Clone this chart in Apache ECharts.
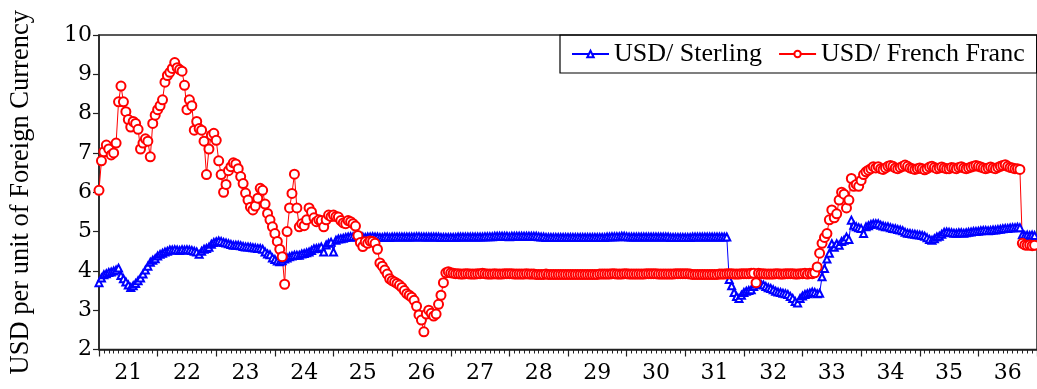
<!DOCTYPE html>
<html>
<head>
<meta charset="utf-8">
<script src="https://cdn.jsdelivr.net/npm/echarts@6/dist/echarts.min.js"></script>
<style>
html,body{margin:0;padding:0;background:#fff;}
#chart{width:1037px;height:389px;}
</style>
</head>
<body>
<div id="chart"></div>
<script>
// semi-monthly observations, 24 per year, starting January 1921
const START_YEAR = 1921;
const PER_YEAR = 24;
const yearLabels = ['21','22','23','24','25','26','27','28','29','30','31','32','33','34','35','36'];
const yTicks = [2,3,4,5,6,7,8,9,10];

const sterling = [
  3.70,3.82,3.90,3.93,3.96,3.97,4.00,4.02,4.07,3.88,3.80,3.72,3.64,3.58,3.62,3.68,3.75,3.82,3.92,4.02,4.12,4.22,4.27,4.31,
  4.38,4.42,4.45,4.48,4.50,4.53,4.53,4.54,4.53,4.52,4.54,4.53,4.54,4.53,4.52,4.50,4.48,4.42,4.50,4.55,4.57,4.60,4.68,4.72,
  4.74,4.76,4.75,4.72,4.71,4.69,4.67,4.65,4.65,4.65,4.64,4.62,4.61,4.61,4.60,4.59,4.58,4.57,4.57,4.55,4.48,4.43,4.41,4.33,
  4.29,4.25,4.23,4.26,4.30,4.33,4.36,4.38,4.40,4.40,4.40,4.43,4.44,4.46,4.48,4.52,4.56,4.57,4.58,4.61,4.48,4.66,4.70,4.73,
  4.48,4.78,4.81,4.82,4.83,4.85,4.86,4.87,4.87,4.86,4.86,4.87,4.86,4.85,4.86,4.86,4.87,4.86,4.86,4.85,4.85,4.86,4.86,4.85,
  4.86,4.86,4.86,4.86,4.86,4.86,4.86,4.86,4.86,4.86,4.87,4.87,4.86,4.86,4.86,4.86,4.86,4.86,4.86,4.86,4.85,4.85,4.85,4.85,
  4.85,4.85,4.85,4.86,4.86,4.86,4.86,4.86,4.86,4.86,4.86,4.86,4.86,4.86,4.87,4.87,4.87,4.87,4.88,4.88,4.88,4.88,4.88,4.88,
  4.87,4.88,4.88,4.88,4.88,4.88,4.88,4.88,4.88,4.88,4.88,4.88,4.87,4.86,4.86,4.85,4.85,4.85,4.85,4.85,4.85,4.85,4.85,4.85,
  4.85,4.85,4.85,4.85,4.85,4.85,4.85,4.85,4.85,4.85,4.85,4.85,4.85,4.85,4.85,4.85,4.86,4.86,4.87,4.87,4.87,4.87,4.88,4.88,
  4.87,4.86,4.86,4.86,4.86,4.86,4.86,4.86,4.86,4.86,4.86,4.86,4.86,4.86,4.86,4.86,4.86,4.86,4.85,4.85,4.85,4.85,4.85,4.85,
  4.85,4.85,4.85,4.86,4.86,4.86,4.86,4.86,4.86,4.86,4.86,4.86,4.86,4.86,4.86,4.86,4.86,4.86,3.78,3.62,3.45,3.35,3.30,3.38,
  3.45,3.48,3.50,3.52,3.60,3.66,3.68,3.66,3.64,3.60,3.57,3.55,3.52,3.48,3.46,3.45,3.43,3.42,3.40,3.35,3.30,3.22,3.18,3.30,
  3.36,3.40,3.42,3.44,3.46,3.45,3.42,3.43,3.85,4.06,4.30,4.45,4.69,4.60,4.69,4.65,4.75,4.78,4.86,4.80,5.29,5.16,5.12,5.10,
  5.08,4.95,5.12,5.15,5.18,5.20,5.20,5.20,5.16,5.14,5.12,5.12,5.10,5.08,5.07,5.05,5.04,5.02,4.98,4.96,4.95,4.94,4.93,4.92,
  4.91,4.90,4.88,4.84,4.80,4.78,4.82,4.86,4.88,4.93,4.98,4.99,4.98,4.97,4.96,4.96,4.97,4.97,4.96,4.97,4.98,4.99,5.00,5.00,
  5.01,5.02,5.03,5.03,5.02,5.03,5.04,5.04,5.05,5.06,5.07,5.08,5.08,5.09,5.10,5.10,5.11,5.10,4.92,4.90,4.91,4.90,4.91,4.90
];

const frenchFranc = [
  6.05,6.80,7.03,7.20,7.10,6.95,7.00,7.25,8.30,8.70,8.30,8.05,7.85,7.66,7.80,7.75,7.60,7.10,7.25,7.36,7.30,6.90,7.75,7.96,
  8.10,8.20,8.35,8.80,8.97,9.05,9.15,9.30,9.17,9.12,9.08,8.72,8.10,8.35,8.20,7.58,7.80,7.62,7.58,7.30,6.45,7.10,7.45,7.50,
  7.32,6.80,6.45,6.00,6.20,6.55,6.65,6.75,6.72,6.60,6.40,6.22,5.98,5.80,5.62,5.55,5.65,5.85,6.10,6.05,5.70,5.46,5.30,5.12,
  4.95,4.75,4.55,4.36,3.66,5.00,5.60,5.97,6.46,5.60,5.12,5.20,5.15,5.30,5.60,5.50,5.35,5.25,5.30,5.28,5.12,5.30,5.42,5.38,
  5.42,5.38,5.37,5.28,5.22,5.20,5.28,5.25,5.20,5.14,4.90,4.72,4.62,4.74,4.70,4.76,4.75,4.70,4.55,4.20,4.12,4.02,3.92,3.80,
  3.75,3.72,3.68,3.64,3.58,3.50,3.42,3.38,3.33,3.25,3.10,2.88,2.75,2.45,2.90,3.00,2.92,2.85,2.90,3.15,3.38,3.70,3.95,3.98,
  3.95,3.94,3.93,3.93,3.92,3.92,3.93,3.93,3.92,3.92,3.92,3.93,3.93,3.94,3.93,3.92,3.92,3.92,3.93,3.92,3.92,3.92,3.93,3.93,
  3.93,3.93,3.92,3.92,3.92,3.92,3.92,3.93,3.92,3.92,3.92,3.91,3.91,3.91,3.91,3.92,3.91,3.91,3.91,3.91,3.91,3.91,3.91,3.91,
  3.91,3.91,3.91,3.91,3.91,3.91,3.91,3.91,3.91,3.91,3.91,3.91,3.91,3.92,3.92,3.92,3.92,3.92,3.93,3.93,3.92,3.92,3.92,3.93,
  3.93,3.92,3.92,3.92,3.92,3.92,3.92,3.92,3.93,3.93,3.93,3.93,3.93,3.92,3.92,3.92,3.92,3.92,3.92,3.92,3.93,3.93,3.93,3.93,
  3.93,3.93,3.92,3.91,3.91,3.91,3.91,3.91,3.91,3.91,3.91,3.91,3.91,3.91,3.92,3.92,3.92,3.93,3.93,3.93,3.92,3.92,3.92,3.93,
  3.93,3.93,3.93,3.94,3.94,3.70,3.94,3.93,3.93,3.92,3.92,3.92,3.92,3.93,3.93,3.92,3.92,3.93,3.93,3.93,3.93,3.92,3.92,3.93,
  3.93,3.94,3.92,3.94,3.93,3.95,4.10,4.45,4.70,4.85,4.95,5.30,5.55,5.35,5.45,5.80,6.00,5.95,5.60,5.80,6.35,6.15,6.20,6.15,
  6.30,6.45,6.52,6.56,6.60,6.65,6.62,6.65,6.60,6.58,6.62,6.66,6.68,6.66,6.62,6.60,6.63,6.66,6.69,6.66,6.62,6.60,6.58,6.60,
  6.62,6.60,6.57,6.60,6.64,6.66,6.63,6.60,6.62,6.64,6.62,6.60,6.60,6.63,6.62,6.60,6.63,6.65,6.62,6.60,6.62,6.64,6.66,6.68,
  6.66,6.64,6.62,6.60,6.62,6.64,6.62,6.60,6.63,6.66,6.68,6.70,6.66,6.63,6.62,6.60,6.60,6.58,4.70,4.66,4.65,4.66,4.64,4.65
];

function toPairs(vals) {
  return vals.map((v, i) => [START_YEAR + i / PER_YEAR, v]);
}

const FONT = "'Liberation Serif', 'DejaVu Serif', serif";
const TICK_FONT = "'DejaVu Serif', 'Liberation Serif', serif";
const chart = echarts.init(document.getElementById('chart'), null, {renderer: 'canvas'});
chart.setOption({
  animation: false,
  backgroundColor: '#fff',
  grid: {left: 95, top: 35, width: 945, height: 314.5, show: true, borderColor: '#222', borderWidth: 1.5, backgroundColor: 'transparent'},
  legend: {
    left: 560, top: 35,
    data: ['USD/ Sterling', 'USD/ French Franc'],
    borderColor: '#000', borderWidth: 1.2,
    padding: [6, 12, 6, 11],
    itemWidth: 37, itemHeight: 8, itemGap: 16,
    textStyle: {fontFamily: FONT, fontSize: 26, color: '#000'}
  },
  xAxis: [
    {
      type: 'value', min: START_YEAR, max: START_YEAR + yearLabels.length, interval: 1,
      position: 'bottom',
      axisLine: {show: true, lineStyle: {color: '#222', width: 1.5}},
      axisTick: {show: true, length: 7, lineStyle: {color: '#222', width: 1.2}},
      minorTick: {show: true, splitNumber: 12, length: 4, lineStyle: {color: '#222', width: 1}},
      axisLabel: {show: false},
      splitLine: {show: false}
    },
    {
      type: 'category', data: yearLabels, boundaryGap: true,
      position: 'bottom',
      axisLine: {show: false}, axisTick: {show: false},
      axisLabel: {fontFamily: TICK_FONT, fontSize: 22, color: '#000', margin: 13},
      splitLine: {show: false}
    }
  ],
  yAxis: {
    type: 'value', min: yTicks[0], max: yTicks[yTicks.length - 1], interval: 1,
    name: 'USD per unit of Foreign Currency',
    nameLocation: 'middle', nameGap: 64, nameRotate: 90,
    nameTextStyle: {fontFamily: FONT, fontSize: 26.5, color: '#000'},
    axisLine: {show: true, lineStyle: {color: '#222', width: 1.5}},
    axisTick: {show: true, length: 6, lineStyle: {color: '#222', width: 1.2}},
    axisLabel: {fontFamily: TICK_FONT, fontSize: 22, color: '#000', margin: 7},
    splitLine: {show: false}
  },
  series: [
    {
      name: 'USD/ Sterling', type: 'line', xAxisIndex: 0,
      data: toPairs(sterling),
      symbol: 'emptyTriangle', symbolSize: 7, showSymbol: true,
      lineStyle: {color: '#0000ff', width: 1},
      itemStyle: {color: '#0000ff', borderWidth: 1}
    },
    {
      name: 'USD/ French Franc', type: 'line', xAxisIndex: 0,
      data: toPairs(frenchFranc),
      symbol: 'emptyCircle', symbolSize: 9, showSymbol: true,
      lineStyle: {color: '#ff0000', width: 1},
      itemStyle: {color: '#ff0000', borderWidth: 1}
    }
  ]
});
</script>
</body>
</html>
